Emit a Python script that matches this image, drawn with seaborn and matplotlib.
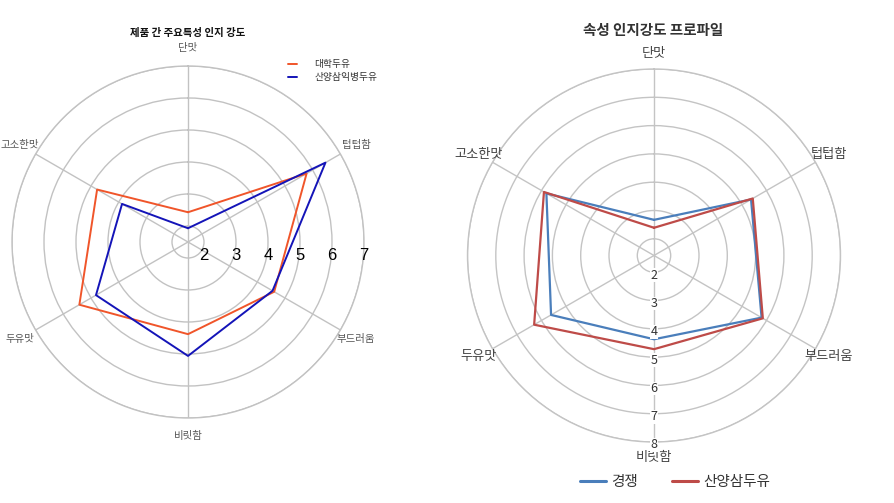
import numpy as np
import pandas as pd
import seaborn as sns
import matplotlib
matplotlib.use("Agg")
import matplotlib.pyplot as plt
import matplotlib.transforms as mtransforms
from matplotlib.lines import Line2D

# ---------------- data ----------------
categories = ["단맛", "텁텁함", "부드러움", "비릿함", "두유맛", "고소한맛"]

left_title = "제품 간 주요특성 인지 강도"
left_series = ["대학두유", "산양삼익병두유"]
left_daehak = [2.43, 5.78, 4.61, 4.38, 5.42, 4.78]
left_sanyang = [1.93, 6.46, 4.55, 5.06, 4.82, 3.88]
left_ticks = [2, 3, 4, 5, 6, 7]

right_title = "속성 인지강도 프로파일"
right_series = ["경쟁", "산양삼두유"]
right_gyeongjaeng = [2.67, 5.37, 5.80, 4.37, 5.61, 5.80]
right_sanyangsam = [2.39, 5.44, 5.85, 4.72, 6.30, 5.90]
right_ticks = [2, 3, 4, 5, 6, 7, 8]

# ---------------- style ----------------
sns.set_style("white")
plt.rcParams["font.family"] = ["Noto Sans CJK KR", "DejaVu Sans"]

W, H = 895, 503
fig = plt.figure(figsize=(W / 100, H / 100), dpi=100)


def add_polar(cx, cy, R):
    return fig.add_axes([(cx - R) / W, (H - cy - R) / H, 2 * R / W, 2 * R / H],
                        projection="polar")


angles = np.arange(len(categories)) * 2 * np.pi / len(categories)


def make_df(series_names, series_values):
    rows = []
    for name, vals in zip(series_names, series_values):
        th = list(angles) + [2 * np.pi]
        vv = list(vals) + [vals[0]]
        for i, (t, v) in enumerate(zip(th, vv)):
            rows.append({"theta": t, "value": v, "series": name, "order": i})
    return pd.DataFrame(rows)


def setup(ax, rmin, rmax, ticks, gridcolor):
    ax.set_theta_zero_location("N")
    ax.set_theta_direction(-1)
    ax.set_ylim(rmin, rmax)
    ax.set_xticks(angles)
    ax.set_xticklabels([])
    ax.set_yticks(ticks)
    ax.set_yticklabels([])
    ax.grid(True, color=gridcolor, linewidth=1.0)
    ax.spines["polar"].set_color(gridcolor)
    ax.spines["polar"].set_linewidth(1.0)
    ax.set_facecolor("none")


# ---------------- left chart ----------------
axL = add_polar(188, 242, 176)
L_RMIN, L_RMAX = 1.5, 7.0
setup(axL, L_RMIN, L_RMAX, left_ticks, "#c2c2c2")
left_colors = {left_series[0]: "#f0552a", left_series[1]: "#1414b8"}
dfL = make_df(left_series, [left_daehak, left_sanyang])
sns.lineplot(data=dfL, x="theta", y="value", hue="series", palette=left_colors,
             sort=False, estimator=None, units="series", ax=axL, legend=False,
             linewidth=1.4)
axL.set_xlabel("")
axL.set_ylabel("")
r_lab_L = L_RMIN + 194 / 32
for a, c in zip(angles, categories):
    axL.text(a, r_lab_L, c, ha="center", va="center", fontsize=7.5,
             color="#555555", clip_on=False)
offL = mtransforms.offset_copy(axL.transData, fig=fig, x=0, y=-13, units="dots")
for t in left_ticks:
    axL.text(np.pi / 2, t, str(t), transform=offL, ha="center", va="center",
             fontsize=12, color="black", family=["Liberation Sans", "DejaVu Sans"])
fig.text(188 / W, 1 - 32.5 / H, left_title, ha="center", va="center",
         fontsize=7.5, fontweight="bold", color="#111111")
handlesL = [Line2D([], [], color=left_colors[s], lw=1.4) for s in left_series]
legL = fig.legend(handlesL, left_series, loc="center left",
                  bbox_to_anchor=(287.5 / W, 1 - 70.7 / H), frameon=False,
                  fontsize=7, handlelength=1.0, handletextpad=1.75,
                  labelspacing=0.25, borderpad=0, borderaxespad=0)
for t in legL.get_texts():
    t.set_color("#333333")

# ---------------- right chart ----------------
axR = add_polar(654, 255.5, 186.5)
R_RMIN, R_RMAX = 1.41, 8.0
setup(axR, R_RMIN, R_RMAX, right_ticks, "#c4c4c4")
right_colors = {right_series[0]: "#4a7ebb", right_series[1]: "#be4b48"}
dfR = make_df(right_series, [right_gyeongjaeng, right_sanyangsam])
sns.lineplot(data=dfR, x="theta", y="value", hue="series", palette=right_colors,
             sort=False, estimator=None, units="series", ax=axR, legend=False,
             linewidth=1.6)
axR.set_xlabel("")
axR.set_ylabel("")
r_lab_R = R_RMIN + 202 / 28.3
for a, c in zip(angles, categories):
    axR.text(a, r_lab_R, c, ha="center", va="center",
             fontsize=9.5, color="#444444", clip_on=False)
offR = mtransforms.offset_copy(axR.transData, fig=fig, x=0, y=-3, units="dots")
for t in right_ticks:
    axR.text(np.pi, t, str(t), transform=offR, ha="center", va="center",
             fontsize=9, color="#333333",
             bbox=dict(facecolor="white", edgecolor="none", pad=0.3))
fig.text(653 / W, 1 - 30 / H, right_title, ha="center", va="center",
         fontsize=10.5, fontweight="bold", color="#333333")
handlesR = [Line2D([], [], color=right_colors[s], lw=2.2) for s in right_series]
legR = fig.legend(handlesR, right_series, loc="center",
                  bbox_to_anchor=(675 / W, 1 - 482 / H), frameon=False, ncol=2,
                  fontsize=10.5, handlelength=1.75, handletextpad=0.35,
                  columnspacing=2.4, borderpad=0, borderaxespad=0)
for t in legR.get_texts():
    t.set_color("#333333")

fig.savefig("out.png", dpi=100)
